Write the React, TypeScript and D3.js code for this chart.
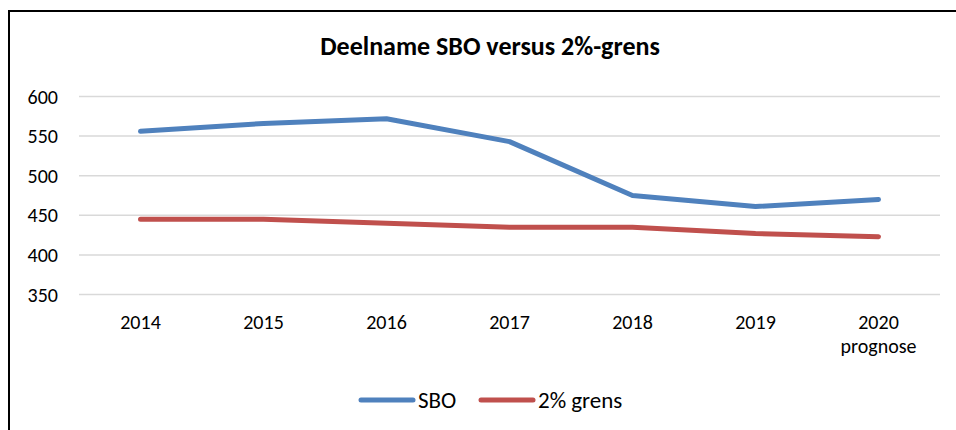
import React from "react";
import * as d3 from "d3";

const categories = ["2014", "2015", "2016", "2017", "2018", "2019", "2020"];
const subLabels = ["", "", "", "", "", "", "prognose"];
const sboValues = [556, 566, 572, 543, 475, 461, 470];
const grensValues = [445, 445, 440, 435, 435, 427, 423];
const yTicks = [350, 400, 450, 500, 550, 600];
const seriesNames = ["SBO", "2% grens"];
const seriesColors = ["#4F81BD", "#C0504D"];

const W = 956;
const H = 430;
const FONT = "Carlito, 'Liberation Sans', Arial, sans-serif";

export default function App() {
  const x = d3.scaleBand<string>().domain(categories).range([79, 940]);
  const y = d3.scaleLinear().domain([350, 600]).range([294.5, 96.5]);
  const line = d3
    .line<number>()
    .x((_, i) => (x(categories[i]) as number) + x.bandwidth() / 2)
    .y((d) => y(d));
  const series = [sboValues, grensValues];

  return (
    <svg
      width={W}
      height={H}
      style={{ position: "absolute", left: 0, top: 0, background: "#fff" }}
      fontFamily={FONT}
    >
      <rect x={0} y={0} width={W} height={H} fill="#fff" />
      <line x1={9} y1={11} x2={W} y2={11} stroke="#000" strokeWidth={2} />
      <line x1={9} y1={10} x2={9} y2={H} stroke="#000" strokeWidth={2} />
      <text x={490} y={55} textAnchor="middle" fontSize={26} fontWeight="bold" fill="#000">
        Deelname SBO versus 2%-grens
      </text>
      {yTicks.map((t) => (
        <g key={t}>
          <line x1={79} x2={940} y1={y(t)} y2={y(t)} stroke="#D9D9D9" strokeWidth={1.5} />
          <text x={58} y={y(t) + 7} textAnchor="end" fontSize={20} fill="#000">
            {t}
          </text>
        </g>
      ))}
      {categories.map((c, i) => (
        <g key={c}>
          <text
            x={(x(c) as number) + x.bandwidth() / 2}
            y={329}
            textAnchor="middle"
            fontSize={20}
            fill="#000"
          >
            {c}
          </text>
          {subLabels[i] && (
            <text
              x={(x(c) as number) + x.bandwidth() / 2}
              y={353}
              textAnchor="middle"
              fontSize={20}
              fill="#000"
            >
              {subLabels[i]}
            </text>
          )}
        </g>
      ))}
      {series.map((s, k) => (
        <path
          key={k}
          d={line(s) || ""}
          fill="none"
          stroke={seriesColors[k]}
          strokeWidth={5}
          strokeLinecap="round"
          strokeLinejoin="round"
        />
      ))}
      {seriesNames.map((n, k) => {
        const lx = k === 0 ? 361 : 481;
        return (
          <g key={n}>
            <line
              x1={lx}
              x2={lx + 52}
              y1={400}
              y2={400}
              stroke={seriesColors[k]}
              strokeWidth={5}
              strokeLinecap="round"
            />
            <text x={lx + 57} y={408} fontSize={23} fill="#000">
              {n}
            </text>
          </g>
        );
      })}
    </svg>
  );
}
